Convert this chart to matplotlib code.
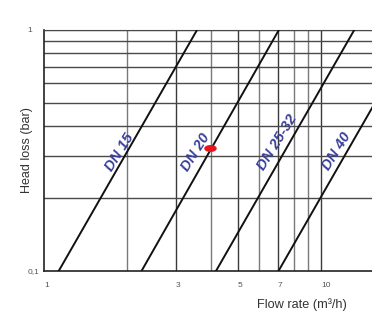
import numpy as np
import matplotlib.pyplot as plt

# Valve curves: flow (m3/h) read at 0.1 bar and at 1 bar
sizes = ["DN 15", "DN 20", "DN 25-32", "DN 40"]
flow_at_low = [1.13, 2.25, 4.18, 7.03]
flow_at_high = [3.57, 7.05, 13.2, 22.2]
head_range = [0.1, 1.0]

# label anchor points (flow, head loss)
label_x = [1.87, 3.52, 6.97, 11.4]
label_y = [0.310, 0.310, 0.341, 0.313]

# operating point
point_flow = [3.98]
point_head = [0.323]

# grid
x_grid = [2, 3, 4, 5, 6, 7, 8, 9, 10]
x_grid_dark = [3, 5, 7, 10]
y_grid = [0.2, 0.3, 0.4, 0.5, 0.6, 0.7, 0.8, 0.9, 1.0]

x_ticks = [1, 3, 5, 7, 10]
x_ticklabels = ["1", "3", "5", "7", "10"]
y_ticks = [0.1, 1]
y_ticklabels = ["0,1", "1"]

plt.rcParams['font.family'] = ['Liberation Sans', 'DejaVu Sans']

fig = plt.figure(figsize=(3.72, 3.29), dpi=100)
ax = fig.add_axes([44/372, 1 - 271/329, 1 - 44/372, (271 - 30)/329])
ax.set_xscale('log')
ax.set_yscale('log')
ax.set_xlim(1, 15.3)
ax.set_ylim(0.1, 1.0)

for xg in x_grid:
    col = '#3a3a3a' if xg in x_grid_dark else '#7a7a7a'
    ax.axvline(xg, color=col, lw=1.0, zorder=1)
for yg in y_grid:
    ax.axhline(yg, color='#4a4a4a', lw=1.0, zorder=1)

for name, q0, q1, lx, ly in zip(sizes, flow_at_low, flow_at_high, label_x, label_y):
    ax.plot([q0, q1], head_range, color='#111111', lw=1.4, zorder=3)
    ax.text(lx, ly, name, rotation=58, color='#3a3f98', fontsize=10.5,
            fontweight='bold', style='italic', ha='center', va='center',
            rotation_mode='anchor', zorder=4)

t = np.linspace(0, 2 * np.pi, 40)
ellipse = np.column_stack([np.cos(t), 0.5 * np.sin(t)])
ax.plot(point_flow, point_head, linestyle='none', marker=ellipse,
        markersize=8, color='#e8141c', zorder=5)

ax.set_xticks(x_ticks)
ax.set_xticklabels(x_ticklabels, ha='left')
ax.xaxis.set_minor_locator(plt.NullLocator())
ax.set_yticks(y_ticks)
ax.set_yticklabels(y_ticklabels, ha='left')
ax.yaxis.set_minor_locator(plt.NullLocator())
ax.tick_params(axis='x', length=0, pad=8, labelsize=6, labelcolor='#555555')
ax.tick_params(axis='y', length=0, pad=12, labelsize=6, labelcolor='#555555')

ax.spines['right'].set_visible(False)
ax.spines['top'].set_color('#4a4a4a')
ax.spines['left'].set_color('#222222')
ax.spines['bottom'].set_color('#222222')
ax.spines['left'].set_linewidth(1.2)
ax.spines['bottom'].set_linewidth(1.2)

fig.text(27/372, 1 - 150/329, "Head loss (bar)", rotation=90, ha='center',
         va='center', fontsize=9, color='#333333')
fig.text(302/372, 1 - 305/329, "Flow rate (m³/h)", ha='center', va='center',
         fontsize=9.2, color='#333333')

fig.savefig("out.png", dpi=100)
